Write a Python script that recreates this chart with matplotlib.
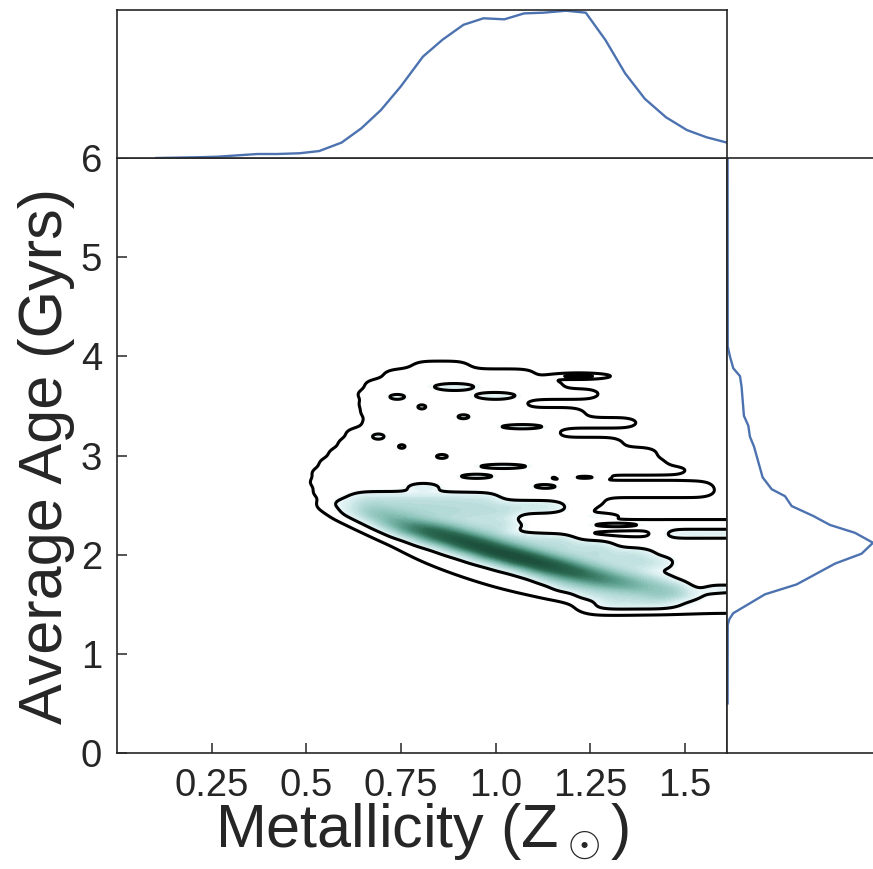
import numpy as np
import matplotlib
matplotlib.use("Agg")
import matplotlib.pyplot as plt
from matplotlib.colors import LinearSegmentedColormap, PowerNorm

plt.rcParams["font.family"] = ["Liberation Sans", "DejaVu Sans"]
plt.rcParams["mathtext.fontset"] = "custom"
plt.rcParams["mathtext.rm"] = "Liberation Sans"
plt.rcParams["mathtext.it"] = "Liberation Sans:italic"

INK = "#262626"
LINE_BLUE = "#4c72b0"

# ---------------- data ----------------
# metallicity marginal (top panel)
metal_grid = [0.104, 0.215, 0.267, 0.319, 0.371, 0.423, 0.482, 0.534, 0.593, 0.645,
              0.697, 0.749, 0.808, 0.860, 0.915, 0.968, 1.023, 1.075, 1.127, 1.186,
              1.238, 1.290, 1.342, 1.394, 1.450, 1.505, 1.557, 1.611]
metal_density = [0.0, 0.005, 0.009, 0.018, 0.027, 0.027, 0.032, 0.047, 0.104, 0.20,
                 0.324, 0.482, 0.685, 0.80, 0.90, 0.944, 0.937, 0.977, 0.982, 0.995,
                 0.982, 0.797, 0.572, 0.40, 0.275, 0.189, 0.14, 0.104]

# age marginal (right panel)
age_grid = [6.0, 4.10, 4.00, 3.88, 3.80, 3.69, 3.40, 3.30, 3.19, 3.09, 2.78, 2.66, 2.59,
            2.49, 2.39, 2.30, 2.22, 2.12, 2.01, 1.91, 1.70, 1.60, 1.41, 1.35, 1.29, 0.50]
age_density = [0.004, 0.005, 0.02, 0.043, 0.089, 0.10, 0.116, 0.146, 0.157, 0.185, 0.244,
               0.306, 0.397, 0.443, 0.591, 0.705, 0.877, 1.0, 0.922, 0.74, 0.477, 0.26,
               0.043, 0.016, 0.005, 0.004]

# main population ridge: metallicity, age, weight
ridge_z = [0.60, 0.66, 0.72, 0.78, 0.84, 0.90, 0.96, 1.02, 1.08, 1.14, 1.20, 1.26,
           1.32, 1.38, 1.44, 1.50]
ridge_age = [2.50, 2.42, 2.35, 2.28, 2.22, 2.15, 2.08, 2.01, 1.95, 1.89, 1.83, 1.77,
             1.72, 1.68, 1.64, 1.61]
ridge_w = [2, 4, 7, 11, 15, 17, 18, 18, 17, 16, 14, 11, 8, 5, 3.5, 2.5]

# age streaks: age, metallicity start, metallicity end, weight
streak_age = [3.91, 3.82, 3.72, 3.62, 3.52, 3.43, 3.33, 3.23, 3.13, 3.03, 2.93,
              2.83, 2.85, 2.73, 2.70, 2.63, 2.53, 2.44,
              2.56, 2.48, 2.40, 2.32, 2.24, 2.16, 2.08, 2.00, 1.92, 1.84, 1.76,
              1.68, 1.60, 1.53,
              2.30, 2.21, 2.13, 2.04, 1.95, 1.86, 1.77, 1.66, 1.57, 1.47]
streak_z0 = [0.78, 0.71, 0.66, 0.64, 0.645, 0.65, 0.655, 0.61, 0.59, 0.565, 0.54,
             0.52, 1.12, 0.515, 1.12, 0.525, 0.56, 0.60,
             0.63, 0.64, 0.66, 0.70, 0.74, 0.80, 0.88, 0.95, 1.02, 1.08, 1.12,
             1.16, 1.22, 1.28,
             1.00, 1.44, 1.15, 1.25, 1.35, 1.40, 1.45, 1.55, 1.40, 1.24]
streak_z1 = [0.93, 1.10, 1.17, 1.27, 1.07, 1.23, 1.37, 1.16, 1.33, 1.42, 1.44,
             1.12, 1.51, 1.12, 1.57, 1.57, 1.28, 1.25,
             1.00, 1.17, 1.05, 1.04, 1.03, 1.20, 1.30, 1.40, 1.45, 1.40, 1.45,
             1.50, 1.50, 1.46,
             1.90, 1.90, 1.90, 1.90, 1.90, 1.90, 1.90, 1.90, 1.90, 1.90]
streak_w = [1.5, 2, 2, 2, 2, 2, 2, 2, 2, 2, 2,
            2, 1.5, 2, 1.5, 2, 2, 2,
            4.6, 4.8, 4.8, 4.8, 4.8, 5, 5, 5, 5, 5, 5,
            5, 5, 4.6,
            2, 4.6, 1.5, 2, 2, 2, 1.5, 4.6, 1.5, 2.5]

# compact clumps: metallicity, age, metallicity spread, age spread, weight
clump_z = [1.22, 0.74, 0.89, 1.00, 0.805, 0.915, 1.07, 0.69, 0.752, 0.858, 1.02,
           0.95, 0.81, 1.13, 1.27, 1.32, 1.235]
clump_age = [3.80, 3.59, 3.69, 3.60, 3.49, 3.39, 3.29, 3.19, 3.09, 2.99, 2.89,
             2.79, 2.68, 2.69, 2.39, 2.30, 2.78]
clump_dz = [0.045, 0.02, 0.045, 0.045, 0.01, 0.015, 0.045, 0.015, 0.01, 0.015, 0.05,
            0.035, 0.03, 0.025, 0.03, 0.05, 0.03]
clump_dage = [0.018, 0.025, 0.03, 0.03, 0.02, 0.02, 0.018, 0.025, 0.02, 0.02, 0.018,
              0.018, 0.03, 0.018, 0.018, 0.018, 0.015]
clump_w = [5.5, 2.8, 3.4, 3.4, 2.6, 2.8, 3.6, 3.0, 2.6, 2.8, 3.6, 3.4, 3.2, 3.0,
           3.4, 3.4, 4.0]

x_ticks = [0.25, 0.5, 0.75, 1.0, 1.25, 1.5]
x_ticklabels = ["0.25", "0.5", "0.75", "1.0", "1.25", "1.5"]
y_ticks = [0, 1, 2, 3, 4, 5, 6]
XMAX = 1.611
OUTER_LEVEL, INNER_LEVEL = 1.0, 4.0


# ---------------- density surface ----------------
def erf(u):
    s = np.sign(u)
    a = np.abs(u)
    t = 1.0 / (1.0 + 0.3275911 * a)
    poly = t * (0.254829592 + t * (-0.284496736 + t * (1.421413741 +
                t * (-1.453152027 + t * 1.061405429))))
    return s * (1.0 - poly * np.exp(-a * a))


def gauss(u, s):
    return np.exp(-0.5 * (u / s) ** 2)


def box(u, a, b, s):
    r = np.sqrt(2.0) * s
    return 0.5 * (erf((u - a) / r) - erf((u - b) / r))


gx = np.linspace(0.0, 1.8, 721)
gy = np.linspace(0.8, 4.4, 1441)
dens = np.zeros((gy.size, gx.size))
for z, a, w in zip(ridge_z, ridge_age, ridge_w):
    px = gauss(gx - z, 0.05)
    dens += w * (np.outer(gauss(gy - a, 0.06), px) +
                 0.1 * np.outer(gauss(gy - a, 0.22), px))
for a, z0, z1, w in zip(streak_age, streak_z0, streak_z1, streak_w):
    dens += w * np.outer(gauss(gy - a, 0.045), box(gx, z0, z1, 0.025))
for z, a, dz, da, w in zip(clump_z, clump_age, clump_dz, clump_dage, clump_w):
    dens += w * np.outer(gauss(gy - a, da), gauss(gx - z, dz))

# ---------------- figure ----------------
W, H = 873, 869
fig = plt.figure(figsize=(W / 100, H / 100), dpi=100)
L, R, T, B, TT = 117, 727, 158, 753, 10
ax = fig.add_axes([L / W, (H - B) / H, (R - L) / W, (B - T) / H])
ax_top = fig.add_axes([L / W, (H - T) / H, (R - L) / W, (T - TT) / H])
ax_right = fig.add_axes([R / W, (H - B) / H, (W - R) / W, (B - T) / H])

teal = LinearSegmentedColormap.from_list(
    "teal", ["#ffffff", "#ddf0f2", "#b6dcd9", "#8cc3b9", "#5a9d8c", "#2c6b53", "#1b4d3a"])
vmax = dens.max()
fill_levels = np.linspace(3.3, vmax, 40)
ax.contourf(gx, gy, dens, levels=fill_levels, cmap=teal,
            norm=PowerNorm(0.7, vmin=3.3, vmax=vmax), zorder=1)
ax.contour(gx, gy, dens, levels=[OUTER_LEVEL, INNER_LEVEL], colors="black",
           linewidths=2.2, zorder=2)

ax.set_xlim(0, XMAX)
ax.set_ylim(0, 6)
ax.set_xticks(x_ticks)
ax.set_xticklabels(x_ticklabels)
ax.set_yticks(y_ticks)
ax.tick_params(direction="in", length=7, width=1.1, color=INK, labelcolor=INK,
               labelsize=27.5, pad=10.8)
ax.set_xlabel(r"Metallicity (Z$\,_{\odot}\,$)", fontsize=44, color=INK)
ax.set_ylabel("Average Age (Gyrs)", fontsize=44, color=INK)
ax.xaxis.set_label_coords(0.5, -0.081)
ax.yaxis.set_label_coords(-0.069, 0.5)

ax_top.plot(metal_grid, metal_density, color=LINE_BLUE, lw=1.7)
ax_top.set_xlim(0, XMAX)
ax_top.set_ylim(0, 1.0)
ax_top.set_xticks([])
ax_top.set_yticks([])

ax_right.plot(age_density, age_grid, color=LINE_BLUE, lw=1.7)
ax_right.set_xlim(0, 1.0)
ax_right.set_ylim(0, 6)
ax_right.set_xticks([])
ax_right.set_yticks([])
ax_right.spines["right"].set_visible(False)

for a in (ax, ax_top, ax_right):
    for s in a.spines.values():
        s.set_color(INK)
        s.set_linewidth(1.2)

fig.savefig("out.png", dpi=100)
